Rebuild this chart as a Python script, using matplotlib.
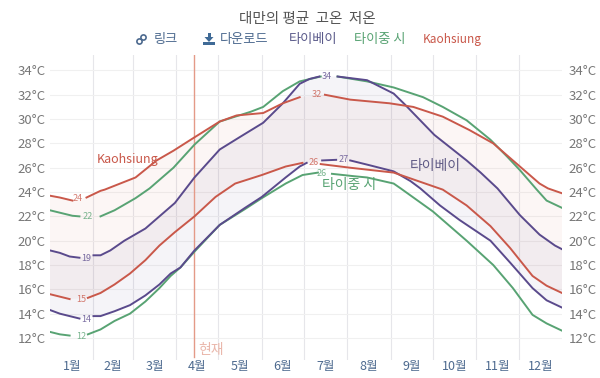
import numpy as np
import matplotlib
matplotlib.use("Agg")
import matplotlib.pyplot as plt
from matplotlib.patches import Circle, Polygon, Rectangle

plt.rcParams["font.family"] = ["Noto Sans CJK KR", "DejaVu Sans"]

nan = np.nan

month_starts = [0, 31, 59, 90, 120, 151, 181, 212, 243, 273, 304, 334, 365]
month_labels = ["1월", "2월", "3월", "4월", "5월", "6월", "7월", "8월", "9월", "10월", "11월", "12월"]
y_ticks = [12, 14, 16, 18, 20, 22, 24, 26, 28, 30, 32, 34]
today = 103

# day of year, temperature (nan = gap left for the inline label)
kao_high_days = [0, 7, 16, 21, 26, 36, 39, 61, 76, 88, 103, 121, 133, 152, 166, 178, 187, 196, 214, 242, 259, 280, 299, 316, 330, 349, 355, 365]
kao_high = [23.7, 23.55, 23.3, nan, 23.55, 24.1, 24.2, 25.2, 26.6, 27.4, 28.5, 29.8, 30.3, 30.5, 31.3, 31.8, nan, 32.0, 31.6, 31.3, 31.0, 30.2, 29.1, 28.0, 26.6, 24.7, 24.3, 23.9]
kao_low_days = [0, 14, 21, 27, 36, 46, 57, 68, 78, 89, 103, 118, 132, 151, 168, 180, 187, 193, 214, 245, 260, 280, 297, 314, 328, 344, 354, 365]
kao_low = [15.6, 15.2, nan, 15.3, 15.7, 16.4, 17.3, 18.4, 19.6, 20.7, 22.0, 23.6, 24.7, 25.4, 26.1, 26.4, nan, 26.3, 26.0, 25.6, 25.0, 24.2, 22.9, 21.2, 19.4, 17.1, 16.3, 15.7]

tpe_high_days = [0, 7, 14, 21, 26, 31, 36, 43, 53, 68, 82, 89, 103, 121, 135, 152, 166, 175, 178, 185, 192, 198, 205, 226, 245, 253, 274, 297, 307, 319, 335, 349, 360, 365]
tpe_high = [19.2, 19.0, 18.7, 18.6, nan, 18.8, 18.8, 19.2, 20.0, 21.0, 22.4, 23.1, 25.2, 27.5, 28.5, 29.7, 31.3, 32.5, 32.9, 33.3, 33.5, nan, 33.5, 33.2, 32.1, 31.2, 28.7, 26.6, 25.6, 24.3, 22.1, 20.5, 19.6, 19.3]
tpe_low_days = [0, 7, 14, 21, 26, 31, 36, 46, 57, 68, 78, 86, 93, 103, 121, 139, 151, 168, 178, 183, 188, 194, 204, 209, 214, 228, 245, 257, 264, 278, 292, 314, 328, 344, 354, 365]
tpe_low = [14.3, 14.0, 13.8, 13.6, nan, 13.8, 13.8, 14.2, 14.7, 15.5, 16.4, 17.3, 17.8, 19.2, 21.3, 22.7, 23.6, 25.2, 26.1, 26.4, nan, 26.6, 26.65, nan, 26.6, 26.2, 25.7, 24.9, 24.3, 22.9, 21.7, 20.0, 18.2, 16.1, 15.1, 14.5]

txg_high_days = [0, 16, 21, 27, 36, 46, 61, 71, 88, 103, 121, 143, 152, 166, 178, 193, 198, 205, 226, 245, 266, 280, 297, 314, 326, 335, 347, 354, 365]
txg_high = [22.5, 22.05, 22.0, nan, 22.0, 22.5, 23.5, 24.3, 26.0, 27.9, 29.8, 30.6, 31.0, 32.3, 33.1, 33.5, nan, 33.5, 33.1, 32.6, 31.8, 31.0, 29.9, 28.3, 26.9, 25.8, 24.2, 23.3, 22.7]
txg_low_days = [0, 7, 14, 21, 27, 36, 46, 57, 68, 78, 86, 93, 103, 121, 139, 151, 168, 180, 191, 194, 201, 217, 226, 245, 250, 273, 297, 316, 330, 344, 354, 365]
txg_low = [12.5, 12.3, 12.2, nan, 12.3, 12.7, 13.4, 14.0, 15.0, 16.1, 17.1, 17.8, 19.1, 21.3, 22.6, 23.5, 24.7, 25.4, 25.6, nan, 25.5, 25.3, 25.2, 24.7, 24.3, 22.4, 20.0, 18.0, 16.1, 13.9, 13.2, 12.6]

inline_days = [20, 27, 26, 22, 26, 22, 197, 190, 188, 209, 194]
inline_temps = [23.5, 21.95, 18.5, 15.2, 13.55, 12.15, 33.5, 32.0, 26.4, 26.65, 25.5]
inline_labels = ["24", "22", "19", "15", "14", "12", "34", "32", "26", "27", "26"]

purple = "#5a4a8c"
red = "#c9584a"
green = "#58a373"
inline_colors = [red, green, purple, red, purple, green, purple, red, red, purple, green]


def band(ax, d_hi, hi, d_lo, lo, color, alpha):
    d_hi, hi, d_lo, lo = map(np.array, (d_hi, hi, d_lo, lo))
    m1 = ~np.isnan(hi)
    m2 = ~np.isnan(lo)
    xs = np.concatenate([d_hi[m1], d_lo[m2][::-1]])
    ys = np.concatenate([hi[m1], lo[m2][::-1]])
    ax.fill(xs, ys, color=color, alpha=alpha, lw=0, zorder=1)


fig = plt.figure(figsize=(6, 3.78), dpi=100)
ax = fig.add_axes([50 / 600, 1 - 360 / 378, 512 / 600, 305 / 378])
ax.set_xlim(0, 365)
ax.set_ylim(10.19, 35.27)

band(ax, tpe_high_days, tpe_high, tpe_low_days, tpe_low, purple, 0.06)
band(ax, kao_high_days, kao_high, kao_low_days, kao_low, red, 0.05)

for d, v, c in [(txg_high_days, txg_high, green), (txg_low_days, txg_low, green),
                (tpe_high_days, tpe_high, purple), (tpe_low_days, tpe_low, purple),
                (kao_high_days, kao_high, red), (kao_low_days, kao_low, red)]:
    ax.plot(d, v, color=c, lw=1.4, zorder=3, solid_joinstyle="round")

ax.set_yticks(y_ticks)
ax.set_yticklabels([f"{t}°C" for t in y_ticks], color="#777777", fontsize=9.5)
ax.tick_params(axis="y", length=0, pad=3)
ax.grid(True, axis="y", color="#f0f0f0", lw=0.8)
ax.set_axisbelow(True)

ax.set_xticks(month_starts[1:-1])
ax.set_xticklabels([])
ax.tick_params(axis="x", length=0)
ax.grid(True, axis="x", color="#e6e6ea", lw=0.8)

for i, lab in enumerate(month_labels):
    mid = (month_starts[i] + month_starts[i + 1]) / 2
    ax.text(mid, 9.65, lab, ha="center", va="center", fontsize=9, color="#4d6a8f", clip_on=False)

for s in ax.spines.values():
    s.set_visible(False)

axr = ax.twinx()
axr.set_ylim(ax.get_ylim())
axr.set_yticks(y_ticks)
axr.set_yticklabels([f"{t}°C" for t in y_ticks], color="#777777", fontsize=9.5)
axr.tick_params(axis="y", length=0, pad=5)
for s in axr.spines.values():
    s.set_visible(False)

ax.plot([today, today], [10.4, 35.27], color="#e49a88", lw=1, zorder=2)
ax.text(today + 3, 11.0, "현재", fontsize=10, color="#eab7ab", va="center", ha="left")

for d, t, lab, c in zip(inline_days, inline_temps, inline_labels, inline_colors):
    ax.text(d, t, lab, fontsize=6.5, color=c, alpha=0.8, ha="center", va="center", zorder=4)

ax.text(55, 26.7, "Kaohsiung", fontsize=9, color=red, ha="center", va="center", zorder=4)
ax.text(275, 26.15, "타이베이", fontsize=10, color="#5f5a85", ha="center", va="center", zorder=4)
ax.text(213, 24.55, "타이중 시", fontsize=10, color=green, ha="center", va="center", zorder=4)

fig.text(307 / 600, 1 - 19 / 378, "대만의 평균  고온  저온", fontsize=10.5, color="#555555", ha="center", va="center")

fig.text(166 / 600, 1 - 40 / 378, "링크", fontsize=9.5, color="#4d6a8f", ha="center", va="center")
fig.text(244 / 600, 1 - 40 / 378, "다운로드", fontsize=9.5, color="#4d6a8f", ha="center", va="center")
fig.text(313 / 600, 1 - 40 / 378, "타이베이", fontsize=9.5, color="#5a5a8a", ha="center", va="center")
fig.text(380 / 600, 1 - 40 / 378, "타이중 시", fontsize=9.5, color=green, ha="center", va="center")
fig.text(452 / 600, 1 - 40 / 378, "Kaohsiung", fontsize=8.5, color=red, ha="center", va="center")

# small link / download icons, in figure pixels
icons = fig.add_axes([0, 0, 1, 1], facecolor="none")
icons.set_xlim(0, 600)
icons.set_ylim(378, 0)
icons.axis("off")
for cx, cy in [(139.5, 41.5), (143.5, 37.5)]:
    icons.add_patch(Circle((cx, cy), 2.6, fill=False, ec="#4d6a8f", lw=1.2))
icons.add_patch(Rectangle((203, 42), 12, 3, color="#3f6a96", lw=0))
icons.add_patch(Rectangle((207.5, 33), 3, 5, color="#3f6a96", lw=0))
icons.add_patch(Polygon([(204.5, 37), (213.5, 37), (209, 42)], color="#3f6a96", lw=0))

fig.savefig("out.png", dpi=100)
